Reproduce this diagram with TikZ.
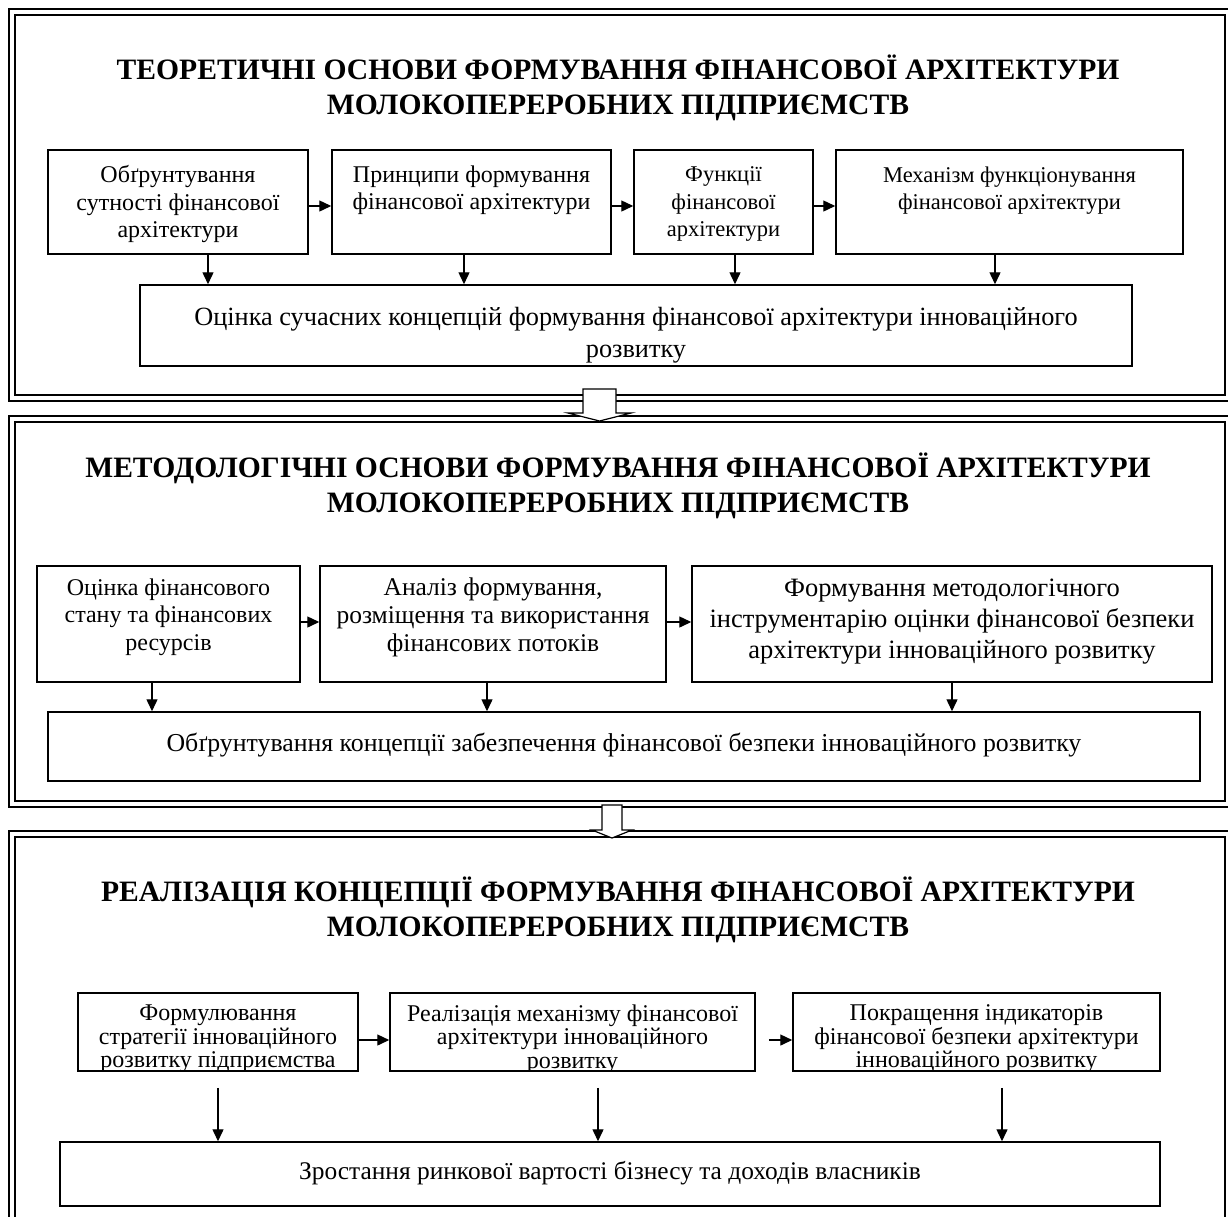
\documentclass[tikz,border=0pt]{standalone}
\usepackage{fontspec}
\setmainfont{Liberation Serif}
\usetikzlibrary{arrows.meta}
\begin{document}
\begin{tikzpicture}[x=1pt,y=-1pt,
  frame/.style={line width=1.8pt},
  box/.style={draw, line width=1.5pt, inner sep=0pt},
  txt/.style={align=center, inner sep=0pt},
  fs/.style 2 args={font=\fontsize{#1}{#2}\selectfont},
  ttl/.style={align=center, inner sep=0pt, font=\fontsize{29.6}{34.5}\selectfont\bfseries},
  arr/.style={line width=1.4pt, -{Triangle[length=12pt,width=11pt]}},
  hollow/.style={fill=white, draw, line width=1.2pt, line join=miter}]
\useasboundingbox (0,0) rectangle (1228,1216);
\fill[white] (0,0) rectangle (1228,1216);
% panel frames
\draw[frame] (9,9) rectangle (1231,401);
\draw[frame] (15,15) rectangle (1225,395);
\draw[frame] (9,416) rectangle (1231,807);
\draw[frame] (15,422) rectangle (1225,801);
\draw[frame] (9,831) rectangle (1231,1225);
\draw[frame] (15,837) rectangle (1225,1219);

% ---------- panel 1 ----------
\node[ttl] (t1) at (618,88) {ТЕОРЕТИЧНІ ОСНОВИ ФОРМУВАННЯ ФІНАНСОВОЇ АРХІТЕКТУРИ\\МОЛОКОПЕРЕРОБНИХ ПІДПРИЄМСТВ};
\node[txt, fs={24}{27.5}] (ta1) at (178,204) {Обґрунтування\\сутності фінансової\\архітектури};
\node[txt, fs={24}{27.5}] (tb1) at (471.5,190.5) {Принципи формування\\фінансової архітектури};
\node[txt, fs={22.5}{27.5}] (tc1) at (723.5,204) {Функції\\фінансової\\архітектури};
\node[txt, fs={22.5}{27.5}] (td1) at (1009.5,190.5) {Механізм функціонування\\фінансової архітектури};
\node[txt, fs={26.3}{32}] (te1) at (636,335) {Оцінка сучасних концепцій формування фінансової архітектури інноваційного\\розвитку};
\node[box, minimum width=260pt, minimum height=104pt] (a1) at (178,202) {};
\node[box, minimum width=279pt, minimum height=104pt] (b1) at (471.5,202) {};
\node[box, minimum width=179pt, minimum height=104pt] (c1) at (723.5,202) {};
\node[box, minimum width=347pt, minimum height=104pt] (d1) at (1009.5,202) {};
\node[box, minimum width=992pt, minimum height=81pt] (e1) at (636,325.5) {};
\draw[arr] (a1.east |- 0,206) -- (b1.west |- 0,206);
\draw[arr] (b1.east |- 0,206) -- (c1.west |- 0,206);
\draw[arr] (c1.east |- 0,206) -- (d1.west |- 0,206);
\draw[arr] (a1.south -| 208,0) -- (e1.north -| 208,0);
\draw[arr] (b1.south -| 464,0) -- (e1.north -| 464,0);
\draw[arr] (c1.south -| 735,0) -- (e1.north -| 735,0);
\draw[arr] (d1.south -| 995,0) -- (e1.north -| 995,0);

% ---------- panel 2 ----------
\node[ttl] (t2) at (618,486) {МЕТОДОЛОГІЧНІ ОСНОВИ ФОРМУВАННЯ ФІНАНСОВОЇ АРХІТЕКТУРИ\\МОЛОКОПЕРЕРОБНИХ ПІДПРИЄМСТВ};
\node[txt, fs={24}{27.5}] (ta2) at (168.5,617) {Оцінка фінансового\\стану та фінансових\\ресурсів};
\node[txt, fs={25.5}{28}] (tb2) at (493,617) {Аналіз формування,\\розміщення та використання\\фінансових потоків};
\node[txt, fs={26.5}{31}] (tc2) at (952,622) {Формування методологічного\\інструментарію оцінки фінансової безпеки\\архітектури інноваційного розвитку};
\node[txt, fs={25.8}{30}] (te2) at (624,745) {Обґрунтування концепції забезпечення фінансової безпеки інноваційного розвитку};
\node[box, minimum width=263pt, minimum height=116pt] (a2) at (168.5,624) {};
\node[box, minimum width=346pt, minimum height=116pt] (b2) at (493,624) {};
\node[box, minimum width=520pt, minimum height=116pt] (c2) at (952,624) {};
\node[box, minimum width=1152pt, minimum height=69pt] (e2) at (624,746.5) {};
\draw[arr] (a2.east |- 0,622) -- (b2.west |- 0,622);
\draw[arr] (b2.east |- 0,622) -- (c2.west |- 0,622);
\draw[arr] (a2.south -| 152,0) -- (e2.north -| 152,0);
\draw[arr] (b2.south -| 487,0) -- (e2.north -| 487,0);
\draw[arr] (c2.south -| 952,0) -- (e2.north -| 952,0);

% ---------- panel 3 ----------
\node[ttl] (t3) at (618,910) {РЕАЛІЗАЦІЯ КОНЦЕПЦІЇ ФОРМУВАННЯ ФІНАНСОВОЇ АРХІТЕКТУРИ\\МОЛОКОПЕРЕРОБНИХ ПІДПРИЄМСТВ};
\begin{scope}
\clip (78,993) rectangle (358,1071);
\node[txt, fs={24}{23.5}] (ta3) at (218,1039) {Формулювання\\стратегії інноваційного\\розвитку підприємства};
\end{scope}
\begin{scope}
\clip (390,993) rectangle (755,1071);
\node[txt, fs={24}{23.5}] (tb3) at (572.5,1039) {Реалізація механізму фінансової\\архітектури інноваційного\\розвитку};
\end{scope}
\begin{scope}
\clip (793,993) rectangle (1160,1071);
\node[txt, fs={24}{23.5}] (tc3) at (976.5,1039) {Покращення індикаторів\\фінансової безпеки архітектури\\інноваційного розвитку};
\end{scope}
\node[txt, fs={25.4}{30}] (te3) at (610,1173) {Зростання ринкової вартості бізнесу та доходів власників};
\node[box, minimum width=280pt, minimum height=78pt] (a3) at (218,1032) {};
\node[box, minimum width=365pt, minimum height=78pt] (b3) at (572.5,1032) {};
\node[box, minimum width=367pt, minimum height=78pt] (c3) at (976.5,1032) {};
\node[box, minimum width=1100pt, minimum height=64pt] (e3) at (610,1174) {};
\draw[arr] (a3.east |- 0,1040) -- (b3.west |- 0,1040);
\draw[arr, shorten <=13pt] (b3.east |- 0,1040) -- (c3.west |- 0,1040);
\draw[arr, shorten <=16pt] (a3.south -| 218,0) -- (e3.north -| 218,0);
\draw[arr, shorten <=16pt] (b3.south -| 598,0) -- (e3.north -| 598,0);
\draw[arr, shorten <=16pt] (c3.south -| 1002,0) -- (e3.north -| 1002,0);

% hollow arrows between panels
\draw[hollow] (583,389) -- (616,389) -- (616,413) -- (631,413) -- (599.5,421) -- (568,413) -- (583,413) -- cycle;
\draw[hollow] (602,805) -- (622,805) -- (622,830) -- (632,830) -- (612,838) -- (592,830) -- (602,830) -- cycle;
\end{tikzpicture}
\end{document}
